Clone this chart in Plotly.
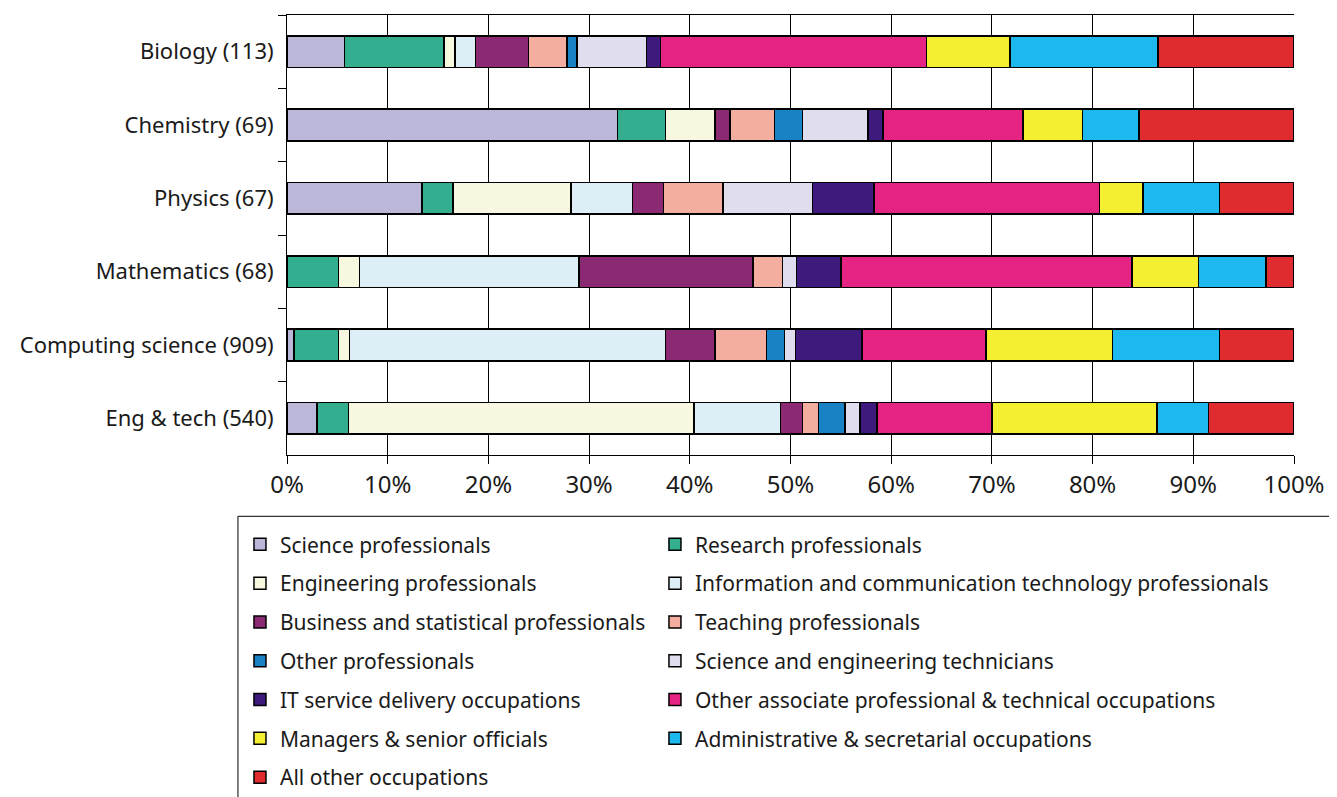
import plotly.graph_objects as go

subjects = ["Biology (113)", "Chemistry (69)", "Physics (67)", "Mathematics (68)",
            "Computing science (909)", "Eng & tech (540)"]

occupations = [
    "Science professionals",
    "Research professionals",
    "Engineering professionals",
    "Information and communication technology professionals",
    "Business and statistical professionals",
    "Teaching professionals",
    "Other professionals",
    "Science and engineering technicians",
    "IT service delivery occupations",
    "Other associate professional & technical occupations",
    "Managers & senior officials",
    "Administrative & secretarial occupations",
    "All other occupations",
]

colors = ["#BAB7D9", "#33AE8E", "#F8F8E0", "#DDEEF7", "#8B2A73", "#F3AEA0", "#1882C4",
          "#DFDDEE", "#3D1A7B", "#E52383", "#F5EF32", "#1DB8EE", "#E02B2F"]

# percentage shares, one list per occupation, in the order of subjects
science_prof = [5.7, 32.8, 13.4, 0.0, 0.7, 3.0]
research_prof = [9.9, 4.8, 3.1, 5.1, 4.4, 3.1]
engineering_prof = [1.1, 4.9, 11.7, 2.1, 1.1, 34.3]
ict_prof = [2.0, 0.0, 6.1, 21.8, 31.4, 8.6]
business_prof = [5.3, 1.5, 3.1, 17.3, 4.9, 2.2]
teaching_prof = [3.8, 4.4, 5.9, 2.9, 5.1, 1.6]
other_prof = [1.0, 2.8, 0.0, 0.0, 1.8, 2.6]
sci_eng_tech = [6.9, 6.5, 8.9, 1.4, 1.1, 1.5]
it_service = [1.4, 1.5, 6.1, 4.4, 6.6, 1.7]
other_assoc = [26.4, 13.9, 22.4, 28.9, 12.3, 11.4]
managers = [8.3, 5.9, 4.3, 6.6, 12.6, 16.4]
admin = [14.7, 5.6, 7.6, 6.7, 10.6, 5.1]
all_other = [13.5, 15.4, 7.4, 2.8, 7.4, 8.5]

shares = [science_prof, research_prof, engineering_prof, ict_prof, business_prof,
          teaching_prof, other_prof, sci_eng_tech, it_service, other_assoc,
          managers, admin, all_other]

fig = go.Figure()
for i, (name, col, vals) in enumerate(zip(occupations, colors, shares)):
    # legend is two columns: even index -> left, odd -> right
    fig.add_trace(go.Bar(
        y=subjects, x=vals, name=name, orientation="h",
        marker=dict(color=col, line=dict(color="black", width=1.5)),
        width=0.43,
        legend="legend" if i % 2 == 0 else "legend2",
        legendgroup=f"g{i}",
    ))

leg_common = dict(
    orientation="v", xanchor="left", yanchor="top", y=-0.1573,
    bgcolor="rgba(0,0,0,0)", borderwidth=0,
    font=dict(size=21), tracegroupgap=8.5, traceorder="grouped",
)

fig.update_layout(
    barmode="stack",
    width=1337, height=797,
    margin=dict(l=279, r=51, t=7, b=345),
    plot_bgcolor="white", paper_bgcolor="white",
    font=dict(family="Noto Sans", size=21, color="#1a1a1a"),
    legend=dict(x=-0.0467, **leg_common),
    legend2=dict(x=0.3654, **leg_common),
    shapes=[dict(type="rect", xref="paper", yref="paper",
                 x0=-0.0487, x1=1.0407, y0=-0.1393, y1=-0.7955,
                 line=dict(color="black", width=1), layer="below")],
)
fig.update_xaxes(
    range=[0, 100], tickvals=list(range(0, 101, 10)),
    ticktext=[f"{v}%" for v in range(0, 101, 10)],
    showgrid=True, gridcolor="black", gridwidth=1,
    showline=True, linecolor="black", linewidth=1, mirror=True,
    ticks="outside", ticklen=8, tickcolor="black",
    zeroline=False, tickfont=dict(size=24),
)
fig.update_yaxes(
    categoryorder="array", categoryarray=subjects, autorange="reversed",
    showline=True, linecolor="black", linewidth=1,
    ticks="outside", ticklen=8, tickcolor="black", tickson="boundaries",
    ticklabelstandoff=8,
    showgrid=False, tickfont=dict(size=22),
)

fig.write_html("out.html")
